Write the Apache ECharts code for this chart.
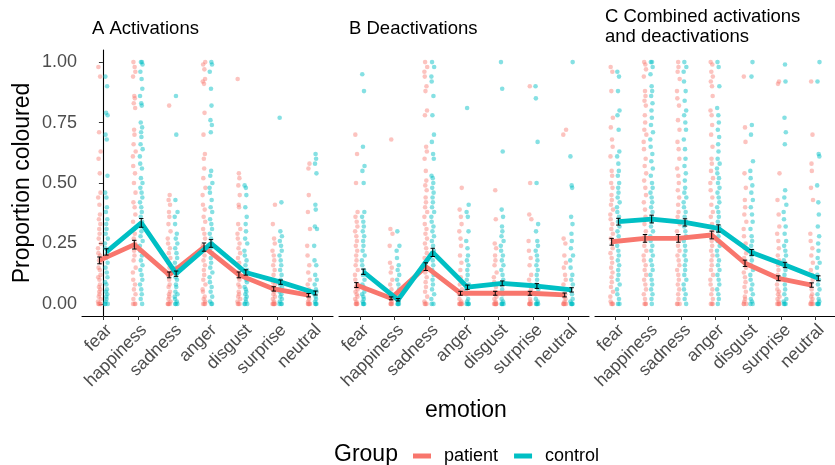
<!DOCTYPE html>
<html><head><meta charset="utf-8">
<script src="https://cdn.jsdelivr.net/npm/echarts@6/dist/echarts.min.js"></script>
<style>html,body{margin:0;padding:0;background:#fff}#c{width:835px;height:465px}</style>
</head><body><div id="c"></div>
<script>
const emotions = ['fear','happiness','sadness','anger','disgust','surprise','neutral'];
const yTicks = [0, 0.25, 0.5, 0.75, 1];
const panelTitles = ['A Activations', 'B Deactivations', 'C Combined activations\nand deactivations'];

// Mean proportion coloured per emotion
const actPatientMean   = [0.18, 0.245, 0.12, 0.235, 0.12, 0.062, 0.036];
const actControlMean   = [0.215, 0.335, 0.125, 0.25, 0.13, 0.09, 0.045];
const deactPatientMean = [0.078, 0.023, 0.154, 0.044, 0.044, 0.044, 0.037];
const deactControlMean = [0.133, 0.017, 0.213, 0.069, 0.085, 0.074, 0.058];
const combPatientMean  = [0.257, 0.271, 0.271, 0.285, 0.168, 0.106, 0.078];
const combControlMean  = [0.34, 0.351, 0.337, 0.312, 0.213, 0.161, 0.106];

// Standard errors
const actPatientSE   = [0.014, 0.018, 0.012, 0.017, 0.012, 0.009, 0.007];
const actControlSE   = [0.013, 0.018, 0.011, 0.016, 0.011, 0.009, 0.008];
const deactPatientSE = [0.01, 0.006, 0.016, 0.008, 0.008, 0.008, 0.008];
const deactControlSE = [0.011, 0.005, 0.017, 0.009, 0.01, 0.01, 0.009];
const combPatientSE  = [0.014, 0.016, 0.016, 0.016, 0.013, 0.01, 0.009];
const combControlSE  = [0.014, 0.016, 0.015, 0.015, 0.012, 0.011, 0.01];

// Individual participant values (per emotion)
const actPatientPts = [
 [0.98,0.94,0.71,0.63,0.60,0.54,0.46,0.44,0.41,0.37,0.35,0.33,0.31,0.29,0.27,0.25,0.23,0.21,0.2,0.18,0.17,0.15,0.14,0.12,0.11,0.1,0.08,0.07,0.06,0.05,0.04,0.03,0.02,0.01,0,0,0,0],
 [1.0,0.98,0.96,0.94,0.86,0.85,0.83,0.81,0.72,0.70,0.66,0.63,0.61,0.57,0.54,0.50,0.46,0.42,0.40,0.37,0.34,0.31,0.29,0.27,0.25,0.22,0.2,0.18,0.15,0.13,0.1,0.08,0.06,0.04,0.02,0,0,0],
 [0.82,0.45,0.43,0.41,0.38,0.36,0.33,0.30,0.27,0.25,0.23,0.21,0.19,0.17,0.15,0.13,0.12,0.1,0.08,0.07,0.05,0.04,0.03,0.02,0.01,0,0,0,0],
 [1.0,0.99,0.97,0.93,0.92,0.91,0.79,0.70,0.62,0.60,0.56,0.52,0.48,0.45,0.41,0.39,0.36,0.34,0.31,0.29,0.27,0.24,0.22,0.2,0.18,0.16,0.14,0.12,0.1,0.08,0.06,0.05,0.03,0.02,0.01,0,0,0],
 [0.93,0.54,0.52,0.49,0.45,0.41,0.40,0.33,0.31,0.29,0.27,0.25,0.23,0.21,0.19,0.17,0.15,0.13,0.11,0.1,0.08,0.07,0.05,0.04,0.03,0.02,0.01,0,0,0],
 [0.41,0.33,0.27,0.25,0.22,0.2,0.18,0.16,0.14,0.12,0.1,0.09,0.08,0.07,0.06,0.05,0.04,0.03,0.02,0.01,0,0,0,0,0],
 [0.58,0.56,0.45,0.38,0.31,0.24,0.2,0.16,0.13,0.1,0.08,0.06,0.05,0.04,0.03,0.02,0.01,0,0,0,0,0]
];
const actControlPts = [
 [0.94,0.90,0.79,0.78,0.70,0.68,0.53,0.46,0.44,0.40,0.38,0.35,0.33,0.31,0.29,0.27,0.25,0.23,0.21,0.19,0.17,0.15,0.13,0.11,0.09,0.08,0.06,0.05,0.04,0.03,0.02,0.01,0,0,0],
 [1.0,1.0,0.99,0.96,0.93,0.89,0.86,0.83,0.82,0.75,0.73,0.71,0.69,0.66,0.64,0.61,0.58,0.56,0.52,0.5,0.48,0.46,0.44,0.42,0.4,0.38,0.36,0.34,0.32,0.3,0.28,0.26,0.24,0.22,0.2,0.18,0.16,0.14,0.12,0.1,0.08,0.06,0.04,0.02,0],
 [0.86,0.70,0.43,0.38,0.36,0.33,0.29,0.27,0.25,0.23,0.21,0.19,0.17,0.15,0.13,0.11,0.1,0.08,0.07,0.05,0.04,0.03,0.02,0.01,0,0,0],
 [1.0,0.99,0.96,0.89,0.82,0.76,0.74,0.71,0.55,0.53,0.50,0.48,0.46,0.43,0.40,0.38,0.35,0.33,0.31,0.29,0.27,0.25,0.23,0.21,0.19,0.17,0.15,0.13,0.11,0.09,0.07,0.05,0.03,0.01,0,0],
 [0.49,0.48,0.45,0.40,0.36,0.33,0.30,0.27,0.25,0.22,0.2,0.18,0.16,0.14,0.12,0.1,0.09,0.07,0.06,0.05,0.04,0.03,0.02,0.01,0,0,0],
 [0.77,0.42,0.30,0.28,0.26,0.24,0.22,0.2,0.18,0.16,0.14,0.12,0.1,0.09,0.08,0.07,0.06,0.05,0.04,0.03,0.02,0.01,0,0,0],
 [0.62,0.60,0.58,0.54,0.41,0.39,0.32,0.31,0.24,0.18,0.16,0.12,0.1,0.08,0.06,0.05,0.04,0.03,0.02,0.01,0,0,0]
];
const deactPatientPts = [
 [0.70,0.62,0.50,0.38,0.36,0.34,0.32,0.3,0.28,0.26,0.24,0.22,0.2,0.18,0.16,0.14,0.12,0.1,0.08,0.07,0.06,0.05,0.04,0.03,0.02,0.01,0,0,0,0],
 [0.68,0.31,0.29,0.24,0.17,0.15,0.13,0.1,0.08,0.06,0.04,0.03,0.02,0.01,0,0,0,0],
 [1.0,0.98,0.96,0.94,0.9,0.88,0.8,0.78,0.65,0.63,0.6,0.55,0.51,0.49,0.47,0.44,0.42,0.4,0.38,0.36,0.33,0.31,0.29,0.27,0.25,0.23,0.21,0.19,0.17,0.15,0.13,0.11,0.09,0.07,0.05,0.03,0.01,0,0,0],
 [0.48,0.39,0.36,0.33,0.3,0.27,0.24,0.2,0.17,0.14,0.11,0.08,0.06,0.04,0.02,0.01,0,0,0,0,0,0],
 [0.47,0.35,0.25,0.23,0.2,0.18,0.16,0.13,0.11,0.09,0.07,0.05,0.03,0.02,0.01,0,0,0,0,0,0],
 [0.9,0.5,0.37,0.35,0.26,0.22,0.19,0.16,0.12,0.1,0.08,0.06,0.04,0.02,0.01,0,0,0,0,0],
 [0.72,0.70,0.27,0.25,0.2,0.17,0.15,0.12,0.1,0.08,0.06,0.04,0.03,0.02,0.01,0,0,0,0,0]
];
const deactControlPts = [
 [0.95,0.88,0.65,0.57,0.55,0.5,0.38,0.36,0.34,0.32,0.3,0.28,0.26,0.24,0.22,0.2,0.18,0.16,0.14,0.12,0.1,0.08,0.07,0.05,0.04,0.03,0.02,0.01,0,0,0],
 [0.3,0.24,0.22,0.19,0.16,0.14,0.12,0.1,0.08,0.06,0.04,0.02,0.01,0,0,0,0],
 [1.0,0.98,0.94,0.92,0.86,0.78,0.7,0.67,0.62,0.6,0.53,0.52,0.5,0.48,0.46,0.44,0.42,0.4,0.38,0.36,0.34,0.32,0.3,0.28,0.26,0.24,0.22,0.2,0.18,0.16,0.14,0.12,0.1,0.08,0.06,0.04,0.02,0,0],
 [0.81,0.41,0.38,0.36,0.3,0.26,0.23,0.2,0.18,0.16,0.14,0.12,0.1,0.08,0.06,0.04,0.02,0.01,0,0,0,0],
 [1.0,0.89,0.63,0.39,0.36,0.32,0.3,0.28,0.26,0.24,0.22,0.2,0.18,0.16,0.14,0.12,0.1,0.08,0.06,0.04,0.02,0.01,0,0,0,0],
 [0.9,0.85,0.67,0.5,0.33,0.3,0.26,0.24,0.22,0.2,0.18,0.16,0.14,0.12,0.1,0.08,0.06,0.04,0.02,0.01,0,0,0,0],
 [1.0,0.61,0.49,0.48,0.36,0.33,0.29,0.26,0.23,0.2,0.18,0.15,0.12,0.1,0.08,0.06,0.04,0.02,0.01,0,0,0,0]
];
const combPatientPts = [
 [0.98,0.96,0.88,0.77,0.73,0.68,0.65,0.61,0.55,0.53,0.5,0.48,0.45,0.43,0.41,0.39,0.37,0.35,0.33,0.31,0.29,0.27,0.25,0.23,0.21,0.19,0.17,0.15,0.13,0.11,0.09,0.07,0.05,0.03,0.01,0,0,0],
 [1.0,0.99,0.97,0.94,0.88,0.86,0.84,0.82,0.78,0.75,0.72,0.7,0.67,0.64,0.6,0.57,0.54,0.51,0.48,0.45,0.42,0.39,0.36,0.33,0.3,0.28,0.26,0.24,0.22,0.2,0.18,0.16,0.14,0.12,0.1,0.08,0.06,0.04,0.02,0,0,0],
 [1.0,0.98,0.96,0.93,0.88,0.85,0.82,0.76,0.72,0.67,0.64,0.6,0.56,0.53,0.5,0.47,0.44,0.41,0.38,0.36,0.33,0.3,0.28,0.26,0.24,0.22,0.2,0.18,0.16,0.14,0.12,0.1,0.08,0.06,0.04,0.02,0,0,0],
 [1.0,0.99,0.96,0.94,0.92,0.9,0.86,0.8,0.78,0.74,0.7,0.65,0.6,0.58,0.55,0.52,0.5,0.47,0.44,0.41,0.38,0.36,0.33,0.3,0.28,0.26,0.24,0.22,0.2,0.18,0.16,0.14,0.12,0.1,0.08,0.06,0.04,0.02,0,0,0],
 [0.94,0.73,0.67,0.54,0.48,0.43,0.4,0.37,0.34,0.31,0.28,0.25,0.23,0.21,0.19,0.17,0.15,0.13,0.11,0.09,0.07,0.05,0.03,0.02,0.01,0,0,0],
 [0.92,0.91,0.54,0.43,0.37,0.32,0.29,0.26,0.23,0.2,0.18,0.16,0.14,0.12,0.1,0.08,0.06,0.05,0.04,0.03,0.02,0.01,0,0,0,0],
 [0.92,0.7,0.58,0.55,0.48,0.43,0.29,0.26,0.23,0.2,0.17,0.14,0.12,0.1,0.08,0.06,0.04,0.03,0.02,0.01,0,0,0,0]
];
const combControlPts = [
 [0.96,0.94,0.88,0.8,0.78,0.72,0.63,0.61,0.58,0.55,0.53,0.5,0.48,0.46,0.44,0.42,0.4,0.38,0.36,0.34,0.32,0.3,0.28,0.26,0.24,0.22,0.2,0.18,0.16,0.14,0.12,0.1,0.08,0.06,0.04,0.02,0,0],
 [1.0,1.0,0.98,0.95,0.9,0.88,0.86,0.83,0.8,0.77,0.74,0.71,0.68,0.65,0.62,0.59,0.56,0.53,0.5,0.48,0.46,0.44,0.42,0.4,0.38,0.36,0.34,0.32,0.3,0.28,0.26,0.24,0.22,0.2,0.18,0.16,0.14,0.12,0.1,0.08,0.06,0.04,0.02,0],
 [1.0,0.98,0.96,0.92,0.88,0.84,0.8,0.78,0.75,0.72,0.68,0.64,0.6,0.57,0.54,0.51,0.48,0.46,0.44,0.42,0.4,0.38,0.36,0.34,0.32,0.3,0.28,0.26,0.24,0.22,0.2,0.18,0.16,0.14,0.12,0.1,0.08,0.06,0.04,0.02,0],
 [1.0,0.98,0.9,0.81,0.78,0.75,0.72,0.69,0.66,0.63,0.6,0.58,0.56,0.54,0.52,0.5,0.48,0.46,0.44,0.42,0.4,0.38,0.36,0.34,0.32,0.3,0.28,0.26,0.24,0.22,0.2,0.18,0.16,0.14,0.12,0.1,0.08,0.06,0.04,0.02,0],
 [1.0,0.94,0.74,0.7,0.59,0.55,0.52,0.49,0.46,0.43,0.4,0.37,0.34,0.31,0.28,0.26,0.24,0.22,0.2,0.18,0.16,0.14,0.12,0.1,0.08,0.06,0.04,0.02,0.01,0,0],
 [0.99,0.92,0.77,0.71,0.66,0.47,0.44,0.41,0.38,0.35,0.32,0.29,0.26,0.24,0.22,0.2,0.18,0.16,0.14,0.12,0.1,0.08,0.06,0.04,0.02,0.01,0,0,0],
 [1.0,0.92,0.62,0.61,0.49,0.42,0.37,0.32,0.28,0.25,0.22,0.19,0.17,0.15,0.12,0.1,0.08,0.06,0.04,0.02,0.01,0,0,0,0]
];

// fixed horizontal jitter pattern (category units)
const jitterPattern = [-0.03, 0.02, -0.01, 0.035, -0.025, 0.01, 0.03, -0.035, 0.0, 0.015, -0.015, 0.025, -0.005, 0.005, -0.02, 0.04, -0.04];

const PATIENT = '#F8766D', CONTROL = '#00BFC4';
const PATIENT_A = 'rgba(248,118,109,0.55)', CONTROL_A = 'rgba(0,191,196,0.6)';
const DODGE = 0.1;
const FONT = '"Liberation Sans", Arial, Helvetica, sans-serif';

const panels = [
  {pm: actPatientMean, cm: actControlMean, pse: actPatientSE, cse: actControlSE, pp: actPatientPts, cp: actControlPts, grid: {left: 82, top: 50, width: 251, height: 266}},
  {pm: deactPatientMean, cm: deactControlMean, pse: deactPatientSE, cse: deactControlSE, pp: deactPatientPts, cp: deactControlPts, grid: {left: 339, top: 50, width: 250, height: 266}},
  {pm: combPatientMean, cm: combControlMean, pse: combPatientSE, cse: combControlSE, pp: combPatientPts, cp: combControlPts, grid: {left: 595, top: 50, width: 251, height: 266}}
];

function pts(arr, off) {
  const out = []; let k = 0;
  arr.forEach((vals, i) => vals.forEach(v => { out.push([i + off + jitterPattern[k % jitterPattern.length], v]); k++; }));
  return out;
}
function means(m, off) { return m.map((v, i) => [i + off, v]); }
function errs(m, se, off) { return m.map((v, i) => [i + off, v - se[i], v + se[i]]); }

function errRender(params, api) {
  const x = api.value(0), lo = api.value(1), hi = api.value(2);
  const a = api.coord([x, lo]), b = api.coord([x, hi]);
  const w = 2.2, st = {stroke: '#000', lineWidth: 1};
  return {type: 'group', children: [
    {type: 'line', shape: {x1: a[0], y1: a[1], x2: b[0], y2: b[1]}, style: st},
    {type: 'line', shape: {x1: a[0] - w, y1: a[1], x2: a[0] + w, y2: a[1]}, style: st},
    {type: 'line', shape: {x1: b[0] - w, y1: b[1], x2: b[0] + w, y2: b[1]}, style: st}
  ]};
}

const grids = [], xAxes = [], yAxes = [], series = [];
panels.forEach((p, i) => {
  grids.push(p.grid);
  xAxes.push({
    type: 'value', gridIndex: i, min: -0.6, max: 6.6,
    axisLine: {show: true, onZero: false, lineStyle: {color: '#000', width: 1.1}},
    axisTick: {show: true, customValues: [0,1,2,3,4,5,6], length: 4, lineStyle: {color: '#333'}},
    axisLabel: {show: true, customValues: [0,1,2,3,4,5,6], rotate: 45, margin: 5,
      align: 'right', verticalAlign: 'top',
      formatter: v => emotions[Math.round(v)], color: '#4D4D4D', fontSize: 17.5, fontFamily: FONT},
    splitLine: {show: false}
  });
  yAxes.push({
    type: 'value', gridIndex: i, min: -0.05, max: 1.05,
    axisLine: {show: i === 0, lineStyle: {color: '#000', width: 1.1}},
    axisTick: {show: i === 0, customValues: yTicks, length: 4, lineStyle: {color: '#333'}},
    axisLabel: {show: i === 0, customValues: yTicks, margin: 5, formatter: v => v.toFixed(2),
      color: '#4D4D4D', fontSize: 18, fontFamily: FONT},
    splitLine: {show: false},
    name: i === 0 ? 'Proportion coloured' : '', nameLocation: 'middle', nameGap: 48,
    nameTextStyle: {fontSize: 23, color: '#000', fontFamily: FONT}
  });
  series.push({type: 'scatter', name: 'patient points', xAxisIndex: i, yAxisIndex: i, data: pts(p.pp, -DODGE),
    symbolSize: 4.6, itemStyle: {color: PATIENT_A}, z: 1, silent: true});
  series.push({type: 'scatter', name: 'control points', xAxisIndex: i, yAxisIndex: i, data: pts(p.cp, DODGE),
    symbolSize: 4.6, itemStyle: {color: CONTROL_A}, z: 1, silent: true});
  series.push({type: 'line', name: 'patient', xAxisIndex: i, yAxisIndex: i, data: means(p.pm, -DODGE),
    symbol: 'none', lineStyle: {color: PATIENT, width: 4.8}, itemStyle: {color: PATIENT}, z: 3});
  series.push({type: 'line', name: 'control', xAxisIndex: i, yAxisIndex: i, data: means(p.cm, DODGE),
    symbol: 'none', lineStyle: {color: CONTROL, width: 4.8}, itemStyle: {color: CONTROL}, z: 3});
  series.push({type: 'custom', xAxisIndex: i, yAxisIndex: i, data: errs(p.pm, p.pse, -DODGE),
    renderItem: errRender, encode: {x: 0, y: [1, 2]}, z: 4, silent: true});
  series.push({type: 'custom', xAxisIndex: i, yAxisIndex: i, data: errs(p.cm, p.cse, DODGE),
    renderItem: errRender, encode: {x: 0, y: [1, 2]}, z: 4, silent: true});
});

const chart = echarts.init(document.getElementById('c'), null, {renderer: 'canvas'});
chart.setOption({
  animation: false,
  backgroundColor: '#fff',
  textStyle: {fontFamily: FONT},
  grid: grids, xAxis: xAxes, yAxis: yAxes, series: series,
  title: [
    {text: panelTitles[0], left: 87, top: 14, textStyle: {fontSize: 18.5, fontWeight: 'normal', color: '#000', fontFamily: FONT}},
    {text: panelTitles[1], left: 344, top: 14, textStyle: {fontSize: 18.5, fontWeight: 'normal', color: '#000', fontFamily: FONT}},
    {text: panelTitles[2], left: 600, top: 2, textStyle: {fontSize: 18.5, fontWeight: 'normal', color: '#000', lineHeight: 20, fontFamily: FONT}},
    {text: 'emotion', left: 420, top: 394, textStyle: {fontSize: 23, fontWeight: 'normal', color: '#000', fontFamily: FONT}},
    {text: 'Group', left: 329, top: 438, textStyle: {fontSize: 23, fontWeight: 'normal', color: '#000', fontFamily: FONT}}
  ],
  legend: {
    data: [{name: 'patient', icon: 'rect'}, {name: 'control', icon: 'rect'}],
    left: 408, top: 442, itemWidth: 18, itemHeight: 5, itemGap: 16,
    textStyle: {fontSize: 18, color: '#000', fontFamily: FONT, padding: [0, 0, 0, 8]},
    selectedMode: false
  }
});
</script></body></html>
